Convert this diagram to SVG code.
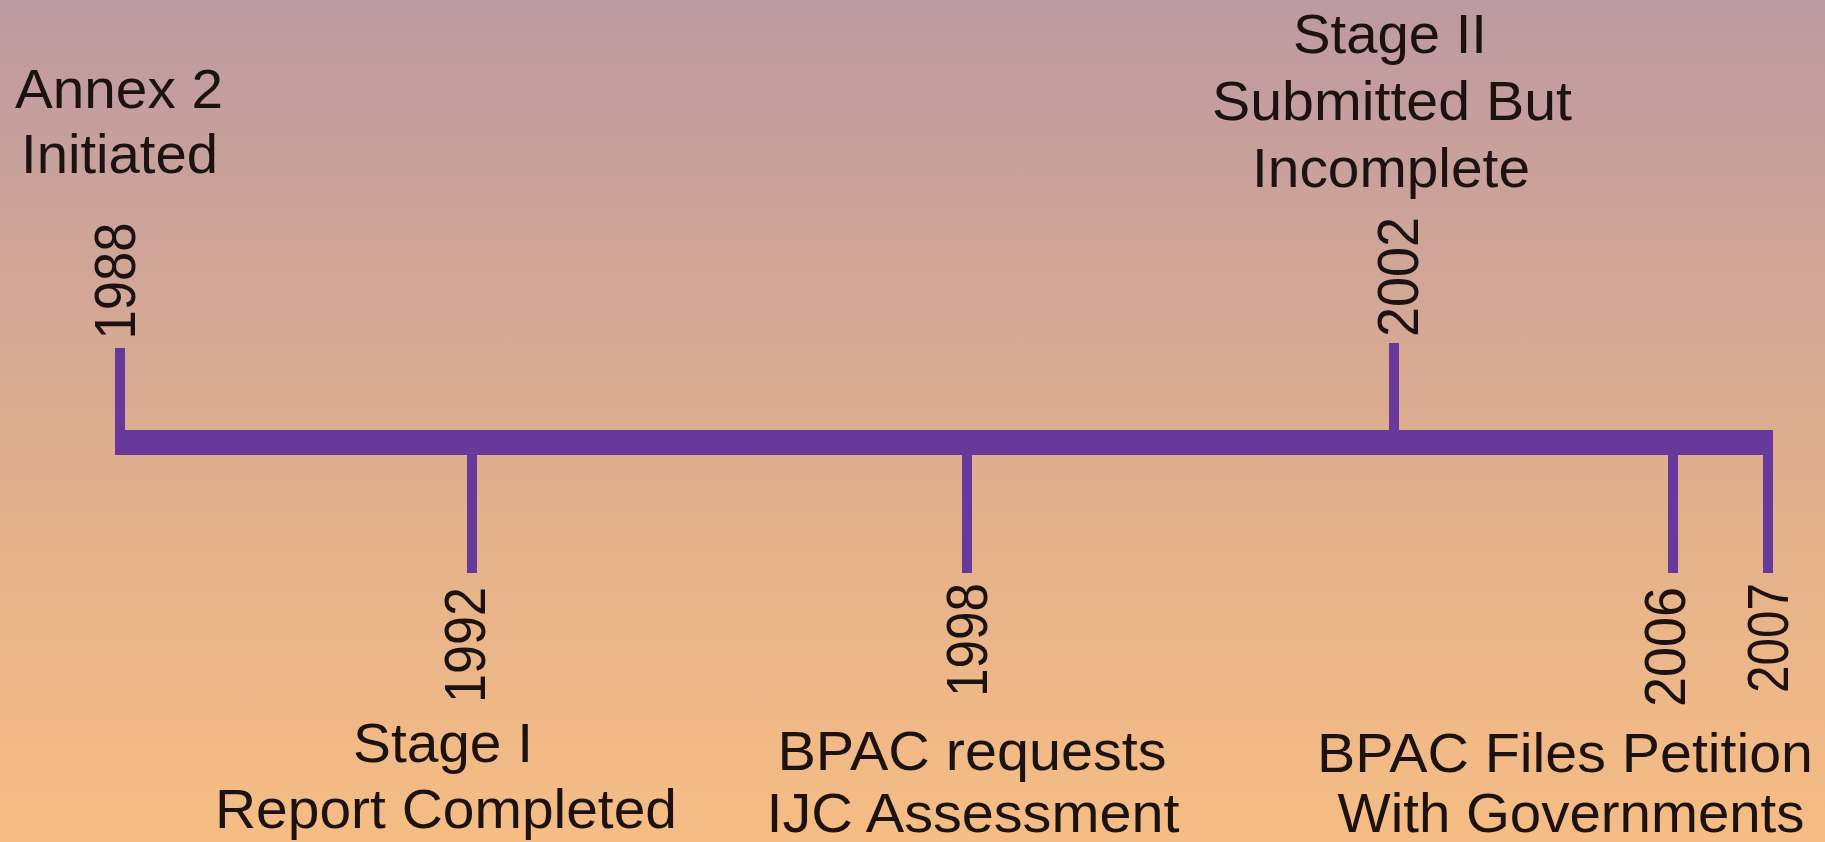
<svg xmlns="http://www.w3.org/2000/svg" width="1825" height="842" viewBox="0 0 1825 842">
<defs>
<linearGradient id="bg" x1="0" y1="0" x2="0" y2="1">
<stop offset="0" stop-color="#bd99a2"/>
<stop offset="0.3" stop-color="#cfa598"/>
<stop offset="0.6" stop-color="#e2b08b"/>
<stop offset="1" stop-color="#f6bd84"/>
</linearGradient>
<style>
.lbl{font-family:"Liberation Sans",Arial,sans-serif;font-size:55px;fill:#1c1212;text-anchor:middle}
.yr{font-family:"Liberation Sans",Arial,sans-serif;font-size:57px;fill:#1c1212;text-anchor:middle}
.bar{fill:#66399b}
</style>
</defs>
<rect width="1825" height="842" fill="url(#bg)"/>
<g id="connectors">
<rect class="bar" x="115" y="430" width="1658" height="25"/>
<rect class="bar" x="115" y="348" width="10" height="90"/>
<rect class="bar" x="467" y="445" width="10" height="128"/>
<rect class="bar" x="962" y="445" width="10" height="128"/>
<rect class="bar" x="1389" y="343" width="10" height="95"/>
<rect class="bar" x="1668" y="445" width="10" height="128"/>
<rect class="bar" x="1763" y="445" width="10" height="128"/>
</g>
<g id="n1988">
<text class="yr" transform="translate(135,281) rotate(-90)" textLength="117" lengthAdjust="spacingAndGlyphs">1988</text>
<text class="lbl" x="119" y="108" textLength="208" lengthAdjust="spacingAndGlyphs">Annex 2</text>
<text class="lbl" x="119.5" y="173" textLength="197" lengthAdjust="spacingAndGlyphs">Initiated</text>
</g>
<g id="n1992">
<text class="yr" transform="translate(485,645) rotate(-90)" textLength="116" lengthAdjust="spacingAndGlyphs">1992</text>
<text class="lbl" x="443" y="762" textLength="180" lengthAdjust="spacingAndGlyphs">Stage I</text>
<text class="lbl" x="446" y="828" textLength="462" lengthAdjust="spacingAndGlyphs">Report Completed</text>
</g>
<g id="n1998">
<text class="yr" transform="translate(987,640) rotate(-90)" textLength="114" lengthAdjust="spacingAndGlyphs">1998</text>
<text class="lbl" x="972" y="770" textLength="389" lengthAdjust="spacingAndGlyphs">BPAC requests</text>
<text class="lbl" x="973" y="832" textLength="413" lengthAdjust="spacingAndGlyphs">IJC Assessment</text>
</g>
<g id="n2002">
<text class="yr" transform="translate(1418,277) rotate(-90)" textLength="120" lengthAdjust="spacingAndGlyphs">2002</text>
<text class="lbl" x="1390" y="53" textLength="194" lengthAdjust="spacingAndGlyphs">Stage II</text>
<text class="lbl" x="1392" y="120" textLength="360" lengthAdjust="spacingAndGlyphs">Submitted But</text>
<text class="lbl" x="1391" y="187" textLength="278" lengthAdjust="spacingAndGlyphs">Incomplete</text>
</g>
<g id="n2006">
<text class="yr" transform="translate(1685,647) rotate(-90)" textLength="120" lengthAdjust="spacingAndGlyphs">2006</text>
<text class="lbl" x="1565" y="772" textLength="496" lengthAdjust="spacingAndGlyphs">BPAC Files Petition</text>
<text class="lbl" x="1571" y="832" textLength="467" lengthAdjust="spacingAndGlyphs">With Governments</text>
</g>
<g id="n2007">
<text class="yr" transform="translate(1788,638) rotate(-90)" textLength="110" lengthAdjust="spacingAndGlyphs">2007</text>
</g>
</svg>
